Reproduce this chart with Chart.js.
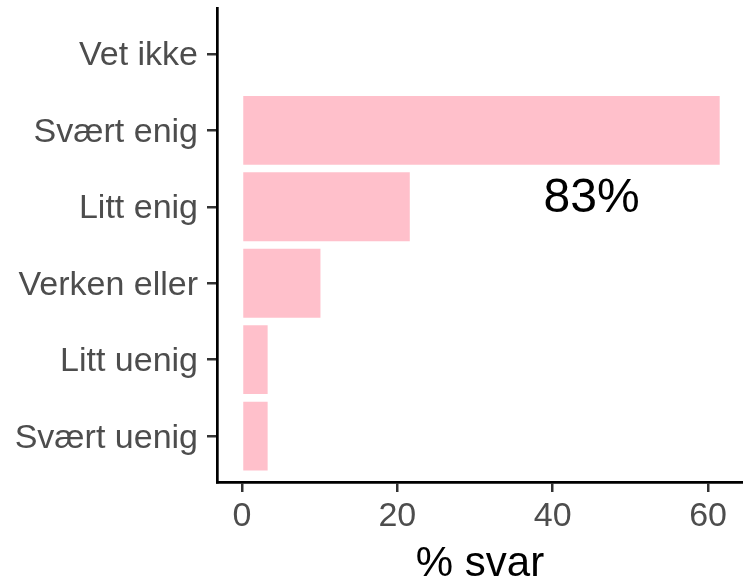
<!DOCTYPE html>
<html>
<head>
<meta charset="utf-8">
<script src="https://cdn.jsdelivr.net/npm/chart.js@4/dist/chart.umd.min.js"></script>
<style>
  html, body { margin: 0; padding: 0; background: #fff; overflow: hidden; }
  canvas { display: block; }
</style>
</head>
<body>
<canvas id="chart" width="743" height="586"></canvas>
<script>
const categories = ["Vet ikke", "Svært enig", "Litt enig", "Verken eller", "Litt uenig", "Svært uenig"];
const values = [0, 61.5, 21.6, 10.1, 3.3, 3.3];
const xTicks = [0, 20, 40, 60];
const xTitle = "% svar";
const noteText = "83%";
const noteX = 45;
const noteY = 1.89;

Chart.defaults.font.family = "'Liberation Sans', Arial, sans-serif";

// Custom plugin to write the annotation inside the plot area
const noteTextPlugin = {
    id: "noteText",
    afterDatasetsDraw(chart) {
        const ctx = chart.ctx;
        const x = chart.scales.x.getPixelForValue(noteX);
        const y = chart.scales.y.getPixelForValue(noteY);

        ctx.save();
        ctx.font = "48px 'Liberation Sans', Arial, sans-serif";
        ctx.fillStyle = "#000";
        ctx.textAlign = "center";
        ctx.textBaseline = "middle";
        ctx.fillText(noteText, x, y);
        ctx.restore();
    },
};

const tickGrid = {
    display: true,
    drawOnChartArea: false,
    drawTicks: true,
    offset: false,
    tickLength: 10,
    color: "#333333",
    lineWidth: 2.5,
};

const config = {
    type: "bar",
    data: {
        datasets: [
            {
                data: categories.map((c, i) => ({ x: values[i], y: i })),
                backgroundColor: "#FFC0CB",
                borderWidth: 0,
                categoryPercentage: 0.9,
                barPercentage: 1,
            },
        ],
    },
    options: {
        indexAxis: "y",
        responsive: false,
        animation: false,
        layout: {
            padding: { top: 8, left: 0, right: 0, bottom: 0 },
        },
        plugins: {
            legend: { display: false },
            tooltip: { enabled: false },
        },
        scales: {
            x: {
                type: "linear",
                position: "bottom",
                min: -3.22,
                max: 64.5,
                grid: tickGrid,
                border: { display: true, color: "#000", width: 2.7 },
                ticks: {
                    color: "#4d4d4d",
                    font: { size: 34 },
                    padding: 4,
                    maxRotation: 0,
                },
                title: {
                    display: true,
                    text: xTitle,
                    color: "#000",
                    font: { size: 42, lineHeight: 1.03 },
                    padding: 0,
                },
                afterBuildTicks(scale) {
                    scale.ticks = xTicks.map((v) => ({ value: v }));
                },
                afterFit(scale) {
                    scale.height = 104;
                    scale.paddingLeft = 0;
                    scale.paddingRight = 0;
                },
            },
            y: {
                type: "linear",
                position: "left",
                reverse: true,
                offset: false,
                min: -0.6,
                max: categories.length - 0.4,
                grid: tickGrid,
                border: { display: true, color: "#000", width: 2.7 },
                ticks: {
                    color: "#4d4d4d",
                    font: { size: 34 },
                    padding: 9,
                    labelOffset: 2,
                    callback: (v) => categories[v],
                },
                afterBuildTicks(scale) {
                    scale.ticks = categories.map((c, i) => ({ value: i }));
                },
                afterFit(scale) {
                    scale.width = 217;
                    scale.paddingTop = 0;
                    scale.paddingBottom = 0;
                },
            },
        },
    },
    plugins: [noteTextPlugin],
};

new Chart(document.getElementById("chart").getContext("2d"), config);
</script>
</body>
</html>
